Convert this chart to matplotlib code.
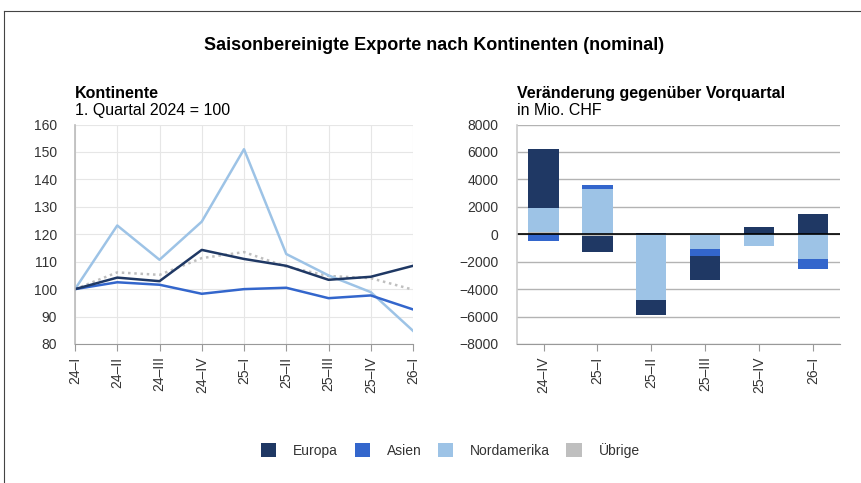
import matplotlib.pyplot as plt
from matplotlib.lines import Line2D
from matplotlib.patches import Patch
import numpy as np

plt.rcParams['font.family'] = ['Liberation Sans', 'DejaVu Sans']

# Indexreihen (1. Quartal 2024 = 100)
quartale = ["24–I", "24–II", "24–III", "24–IV", "25–I", "25–II", "25–III", "25–IV", "26–I"]
europa = [100, 104.2, 102.9, 114.3, 111.0, 108.5, 103.4, 104.5, 108.5]
asien = [100, 102.5, 101.6, 98.3, 100.0, 100.5, 96.7, 97.7, 92.6]
nordamerika = [100, 123.2, 110.7, 124.6, 151.0, 112.8, 105.0, 98.9, 84.8]
uebrige = [100, 106.1, 105.2, 111.3, 113.5, 108.2, 104.8, 104.0, 99.8]

# Veraenderung gegenueber Vorquartal in Mio. CHF
quartale_bar = ["24–IV", "25–I", "25–II", "25–III", "25–IV", "26–I"]
d_europa = [4290, -1180, -1090, -1750, 510, 1450]
d_asien = [-460, 290, 100, -510, 0, -730]
d_nordamerika = [1770, 3310, -4780, -1070, -870, -1820]
d_uebrige = [150, -100, 0, 0, 0, 0]

c_eu = "#1f3864"
c_as = "#3366cc"
c_na = "#9dc3e6"
c_ub = "#bfbfbf"
txt = "#333333"

fig = plt.figure(figsize=(8.61, 4.83), dpi=100)

# Rahmen
fig.add_artist(Line2D([0.005, 0.005], [0, 0.977], transform=fig.transFigure, color="#444444", lw=0.8))
fig.add_artist(Line2D([0.005, 1.0], [0.977, 0.977], transform=fig.transFigure, color="#444444", lw=0.8))

fig.text(0.504, 0.905, "Saisonbereinigte Exporte nach Kontinenten (nominal)", ha="center", va="center",
         fontsize=13, fontweight="bold", color="black")

# --- linker Chart ---
ax1 = fig.add_axes([0.0871, 0.2878, 0.3926, 0.4544])
x = np.arange(len(quartale))
ax1.plot(x, uebrige, color=c_ub, lw=1.8, linestyle=(0, (1, 1.5)))
ax1.plot(x, nordamerika, color=c_na, lw=1.8)
ax1.plot(x, asien, color=c_as, lw=1.8)
ax1.plot(x, europa, color=c_eu, lw=1.8)
ax1.set_xlim(0, 8)
ax1.set_ylim(80, 160)
ax1.set_yticks(range(80, 161, 10))
ax1.set_xticks(x)
ax1.set_xticklabels(quartale, rotation=90, fontsize=10, color=txt)
ax1.tick_params(axis="y", length=0, labelsize=10, labelcolor=txt, pad=13)
ax1.tick_params(axis="x", length=5, color="#999999", pad=4)
ax1.grid(True, color="#e6e6e6", lw=0.8)
ax1.set_axisbelow(True)
for s in ["top", "right"]:
    ax1.spines[s].set_visible(False)
ax1.spines["left"].set_color("#bbbbbb")
ax1.spines["left"].set_linewidth(1.2)
ax1.spines["bottom"].set_color("#999999")

fig.text(0.0871, 0.806, "Kontinente", fontsize=11.5, fontweight="bold", va="center")
fig.text(0.0871, 0.771, "1. Quartal 2024 = 100", fontsize=11.5, va="center")

# --- rechter Chart ---
ax2 = fig.add_axes([0.600, 0.2878, 0.3755, 0.4544])
xb = np.arange(len(quartale_bar))
w = 0.56
reihen = [(d_uebrige, c_ub), (d_nordamerika, c_na), (d_asien, c_as), (d_europa, c_eu)]
pos_base = np.zeros(len(xb))
neg_base = np.zeros(len(xb))
for werte, farbe in reihen:
    v = np.array(werte, dtype=float)
    pos = np.where(v > 0, v, 0)
    neg = np.where(v < 0, v, 0)
    ax2.bar(xb, pos, w, bottom=pos_base, color=farbe, linewidth=0)
    ax2.bar(xb, neg, w, bottom=neg_base, color=farbe, linewidth=0)
    pos_base += pos
    neg_base += neg
ax2.axhline(0, color="black", lw=1.2)
ax2.set_xlim(-0.5, 5.5)
ax2.set_ylim(-8000, 8000)
ax2.set_yticks(range(-8000, 8001, 2000))
ax2.set_xticks(xb)
ax2.set_xticklabels(quartale_bar, rotation=90, fontsize=10, color=txt)
ax2.tick_params(axis="y", length=0, labelsize=10, labelcolor=txt, pad=13)
ax2.tick_params(axis="x", length=5, color="#999999", pad=4)
ax2.grid(True, axis="y", color="#b3b3b3", lw=1.0)
ax2.set_axisbelow(True)
ax2.spines["right"].set_visible(False)
ax2.spines["top"].set_visible(False)
ax2.spines["left"].set_color("#cccccc")
ax2.spines["left"].set_linewidth(1.2)
ax2.spines["bottom"].set_color("#999999")

fig.text(0.600, 0.806, "Veränderung gegenüber Vorquartal", fontsize=11.5, fontweight="bold", va="center")
fig.text(0.600, 0.771, "in Mio. CHF", fontsize=11.5, va="center")

# Legende
handles = [Patch(facecolor=c_eu, label="Europa"), Patch(facecolor=c_as, label="Asien"),
           Patch(facecolor=c_na, label="Nordamerika"), Patch(facecolor=c_ub, label="Übrige")]
fig.legend(handles=handles, loc="center", bbox_to_anchor=(0.523, 0.068), ncol=4, frameon=False,
           fontsize=10, handlelength=1.1, handleheight=1.1, handletextpad=1.2, columnspacing=1.2,
           labelcolor=txt)

fig.savefig("out.png", dpi=100)
